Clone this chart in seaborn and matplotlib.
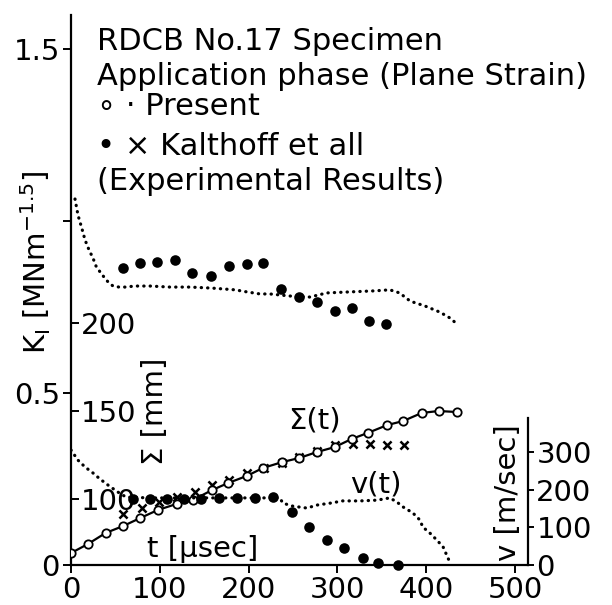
import matplotlib
matplotlib.use("Agg")
import matplotlib.pyplot as plt
import seaborn as sns
import pandas as pd

# ---------------- data ----------------
# K_I, present analysis (dotted curve)
k_pres_t = [4.5, 7.9, 12.4, 15.8, 20.3, 24.8, 28.2, 32.7, 37.2, 41.7, 47.3, 54.1, 60.8,
            72, 89, 111.5, 134, 158.8, 184.7, 198, 212.8, 224, 246.6, 269, 288, 314,
            342, 359, 370, 382, 398.6, 415.5, 426.8, 435.8]
k_pres_v = [1.064, 1.017, 0.977, 0.945, 0.916, 0.892, 0.869, 0.852, 0.837, 0.823, 0.811,
            0.808, 0.808, 0.811, 0.811, 0.808, 0.808, 0.805, 0.800, 0.794, 0.788, 0.788,
            0.782, 0.779, 0.791, 0.794, 0.797, 0.800, 0.791, 0.767, 0.753, 0.735, 0.718,
            0.698]
# K_I, Kalthoff et al. (filled dots)
k_exp_t = [59, 78, 97, 117, 136, 158, 178, 198, 216, 236, 257, 277, 297, 316, 336, 355]
k_exp_v = [0.863, 0.878, 0.881, 0.887, 0.849, 0.840, 0.869, 0.875, 0.878, 0.802, 0.779,
           0.765, 0.738, 0.747, 0.709, 0.701]
# Sigma(t) [mm], present (open circles + line)
w_pres_t = [0, 19, 39, 59, 78, 98, 119, 137, 159, 177, 198, 216, 238, 257, 277, 297,
            316, 334, 356, 374, 395, 414, 435]
w_pres_v = [69.3, 74.4, 80.7, 84.7, 89.2, 93.8, 97.2, 99.4, 105.1, 109.1, 113.1, 117.6,
            121.0, 123.3, 126.7, 129.5, 134.1, 137.5, 142.0, 144.3, 148.9, 150.0, 149.4]
# Sigma(t) [mm], Kalthoff et al. (crosses)
w_exp_t = [58.6, 80, 99, 119, 139.6, 158.8, 178, 198, 217, 237.6, 256.8, 277, 297,
           317.6, 336.7, 355.9, 375]
w_exp_v = [91.5, 94.9, 98.3, 101.1, 104.0, 108.0, 110.8, 114.8, 117.6, 120.5, 123.9,
           127.3, 130.7, 131.3, 131.3, 130.7, 130.7]
# v(t) [m/sec], present (dotted curve)
v_pres_t = [0, 7.9, 15.8, 24.8, 32.7, 41.7, 49.5, 57.4, 63, 89, 145, 201.6, 235, 238.7,
            250, 265.8, 277, 291.7, 306, 325.5, 344.6, 359, 367, 373.9, 385, 393, 396,
            404, 412, 419, 427]
v_pres_v = [305, 278, 260, 244, 228, 212, 199, 186, 180, 178, 178, 178, 178, 164, 156,
            151, 159, 164, 170, 170, 172, 178, 167, 154, 138, 119, 101, 85, 66, 48, 5]
# v(t) [m/sec], Kalthoff et al. (filled dots)
v_exp_t = [70, 89, 108, 127, 146, 167, 187, 207, 227, 249, 268, 288, 307, 329, 346, 368]
v_exp_v = [175, 175, 175, 175, 175, 178, 178, 178, 180, 141, 101, 66, 45, 19, 5, 0]

x_ticks = [0, 100, 200, 300, 400, 500]
k_ticks = [0, 0.5, 1.0, 1.5]
k_tick_labels = ["0", "0.5", "", "1.5"]
w_ticks = [100, 150, 200]
v_ticks = [0, 100, 200, 300]

# ---------------- style ----------------
sns.set_theme(style="white")
plt.rcParams["font.family"] = ["DejaVu Sans"]
plt.rcParams["mathtext.fontset"] = "dejavusans"

W, H = 612, 605
fig = plt.figure(figsize=(W / 100, H / 100), dpi=100)
fig.patch.set_facecolor("white")

def fx(px):
    return px / W

def fy(py):
    return 1 - py / H

ax = fig.add_axes([fx(71), fy(565), (528 - 71) / W, (565 - 15) / H])
ax.set_facecolor("none")
ax.set_xlim(0, 514.6)
ax.set_ylim(0, 1.599)
for s in ["top", "right"]:
    ax.spines[s].set_visible(False)
for s in ["left", "bottom"]:
    ax.spines[s].set_color("black")
    ax.spines[s].set_linewidth(1.6)
ax.set_xticks(x_ticks)
ax.set_yticks(k_ticks)
ax.set_yticklabels(k_tick_labels)
ax.tick_params(axis="both", direction="out", length=6, width=1.4, colors="black",
               labelsize=21, pad=2, left=True, bottom=True)

tick_lw = 1.4
dot_style = dict(color="black", linewidth=2.3, linestyle=(0, (0.1, 1.9)),
                 dash_capstyle="round")

# K_I curves
dk = pd.DataFrame({"t": k_pres_t, "K": k_pres_v})
sns.lineplot(data=dk, x="t", y="K", ax=ax, errorbar=None, **dot_style)
de = pd.DataFrame({"t": k_exp_t, "K": k_exp_v})
sns.scatterplot(data=de, x="t", y="K", ax=ax, color="black", s=58, marker="o",
                edgecolor="black", linewidth=0, zorder=3)
ax.set_xlabel("")
ax.set_ylabel("")

# Sigma axis (inner left)
ax2 = ax.twinx()
ax2.set_facecolor("none")
ax2.set_ylim(62.5, 375)
for s in ax2.spines.values():
    s.set_visible(False)
ax2.spines["right"].set_position(("axes", 0))
ax2.set_yticks(w_ticks)
ax2.tick_params(axis="y", direction="out", length=6, width=tick_lw, colors="black",
                labelsize=21, pad=1, right=True, left=False)
dw = pd.DataFrame({"t": w_pres_t, "W": w_pres_v})
sns.lineplot(data=dw, x="t", y="W", ax=ax2, errorbar=None, color="black", linewidth=1.6,
             marker="o", markersize=6, markerfacecolor="white", markeredgecolor="black",
             markeredgewidth=1.3, zorder=4)
dwx = pd.DataFrame({"t": w_exp_t, "W": w_exp_v})
sns.scatterplot(data=dwx, x="t", y="W", ax=ax2, color="black", s=34, marker="x",
                linewidth=1.8, zorder=3)
ax2.set_xlabel("")
ax2.set_ylabel("")

# v axis (right)
ax3 = ax.twinx()
ax3.set_facecolor("none")
ax3.set_ylim(0, 1459)
for s in ["top", "left", "bottom"]:
    ax3.spines[s].set_visible(False)
ax3.spines["right"].set_color("black")
ax3.spines["right"].set_linewidth(1.6)
ax3.spines["right"].set_bounds(0, 390)
ax3.set_yticks(v_ticks)
ax3.tick_params(axis="y", direction="out", length=4, width=tick_lw, colors="black",
                labelsize=21, pad=2, right=True, left=False)
dv = pd.DataFrame({"t": v_pres_t, "v": v_pres_v})
sns.lineplot(data=dv, x="t", y="v", ax=ax3, errorbar=None, **dot_style)
dve = pd.DataFrame({"t": v_exp_t, "v": v_exp_v})
sns.scatterplot(data=dve, x="t", y="v", ax=ax3, color="black", s=58, marker="o",
                edgecolor="black", linewidth=0, zorder=3, clip_on=False)
ax3.set_xlabel("")
ax3.set_ylabel("")

# ---------------- texts ----------------
tk = dict(fontsize=22, color="black")
fig.text(fx(97), fy(50), "RDCB No.17 Specimen", va="baseline", **tk)
fig.text(fx(97), fy(85), "Application phase (Plane Strain)", va="baseline", **tk)
fig.text(fx(97), fy(115), "∘ · Present", va="baseline", **tk)
fig.text(fx(97), fy(155), "• × Kalthoff et all", va="baseline", **tk)
fig.text(fx(97), fy(190), "(Experimental Results)", va="baseline", **tk)

tl = dict(fontsize=21, color="black")
fig.text(fx(36), fy(262), r"K$_\mathregular{I}$ [MNm$^{\mathregular{-1.5}}$]",
         rotation=90, ha="center", va="center", **tl)
fig.text(fx(155), fy(411), "Σ [mm]", rotation=90, ha="center", va="center", **tl)
fig.text(fx(508), fy(493), "v [m/sec]", rotation=90, ha="center", va="center", **tl)
fig.text(fx(147), fy(557), "t [μsec]", va="baseline", **tl)
fig.text(fx(288), fy(428), "Σ(t)", va="baseline", **tl)
fig.text(fx(350), fy(492), "v(t)", va="baseline", **tl)

fig.savefig("out.png", dpi=100, facecolor="white")
